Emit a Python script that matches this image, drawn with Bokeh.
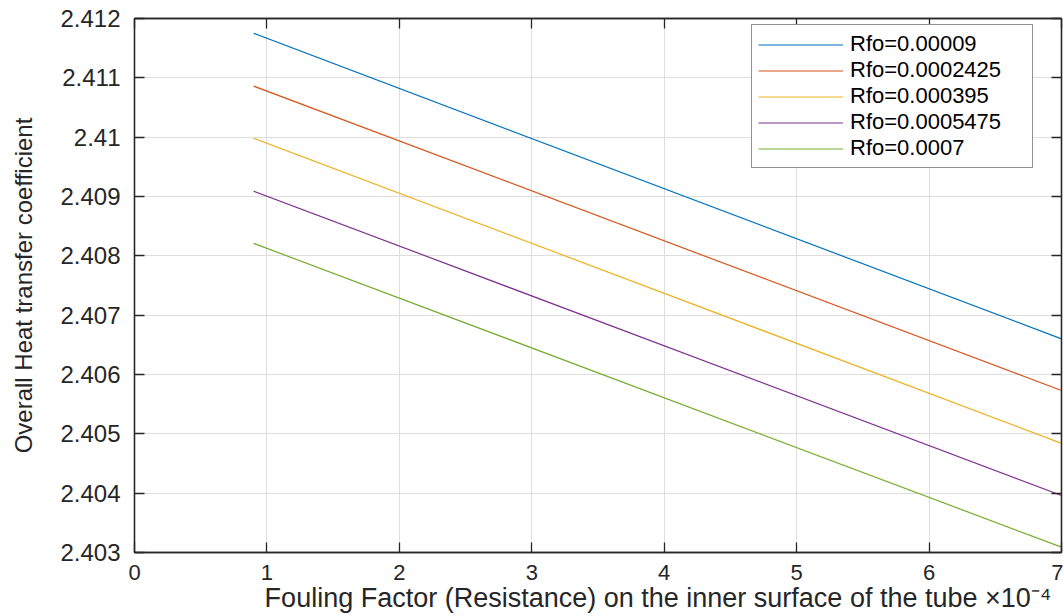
from bokeh.plotting import figure
from bokeh.models import Range1d, LinearAxis, FixedTicker, Legend, LegendItem, CustomJSTickFormatter
from bokeh.embed import file_html
from bokeh.resources import INLINE

# ---- data (x in units of 1e-4) ----
x_vals = [0.9, 7.0]
series_names = ["Rfo=0.00009", "Rfo=0.0002425", "Rfo=0.000395", "Rfo=0.0005475", "Rfo=0.0007"]
y_rfo_00009 = [2.41175, 2.40660]
y_rfo_0002425 = [2.41086, 2.40573]
y_rfo_000395 = [2.40998, 2.40484]
y_rfo_0005475 = [2.40909, 2.40396]
y_rfo_0007 = [2.40821, 2.40309]
series_values = [y_rfo_00009, y_rfo_0002425, y_rfo_000395, y_rfo_0005475, y_rfo_0007]
colors = ["#0072BD", "#D95319", "#EDB120", "#7E2F8E", "#77AC30"]

x_ticks = [0, 1, 2, 3, 4, 5, 6, 7]
y_ticks = [2.403, 2.404, 2.405, 2.406, 2.407, 2.408, 2.409, 2.410, 2.411, 2.412]
y_tick_labels = ["2.403", "2.404", "2.405", "2.406", "2.407", "2.408", "2.409", "2.41", "2.411", "2.412"]
x_label = "Fouling Factor (Resistance) on the inner surface of the tube"
x_exponent = "\u00d710\u207b\u2074"

FONT = "Liberation Sans"
TXT = "#262626"

p = figure(width=1063, height=616, output_backend="svg", toolbar_location=None,
           x_range=Range1d(0, 7), y_range=Range1d(2.403, 2.412),
           min_border_left=134, min_border_right=2, min_border_top=18, min_border_bottom=64)
p.background_fill_color = "white"
p.border_fill_color = "white"
p.outline_line_color = TXT
p.outline_line_width = 1.3

renderers = []
for name, ys, c in zip(series_names, series_values, colors):
    r = p.line(x_vals, ys, line_color=c, line_width=1.2)
    renderers.append((name, r))

# grid
for g in (p.xgrid, p.ygrid):
    g.grid_line_color = "#dedede"
    g.grid_line_width = 1
p.xgrid.ticker = FixedTicker(ticks=x_ticks)
p.ygrid.ticker = FixedTicker(ticks=y_ticks)

def style_axis(ax, ticks):
    ax.ticker = FixedTicker(ticks=ticks)
    ax.axis_line_color = TXT
    ax.axis_line_width = 1.3
    ax.major_tick_line_color = TXT
    ax.major_tick_line_width = 1.3
    ax.major_tick_in = 10
    ax.major_tick_out = 0
    ax.minor_tick_line_color = None
    ax.major_label_text_font = FONT
    ax.major_label_text_color = TXT
    ax.axis_label_text_font = FONT
    ax.axis_label_text_color = TXT
    ax.axis_label_text_font_style = "normal"

xa = p.xaxis[0]
style_axis(xa, x_ticks)
xa.major_label_text_font_size = "22px"
xa.major_label_standoff = 12
# leading no-break spaces push the centred label right so the exponent sits at the right end
xa.axis_label = "\u00a0" * 16 + x_label + " " + x_exponent
xa.axis_label_text_font_size = "27px"
xa.axis_label_standoff = 0

ya = p.yaxis[0]
style_axis(ya, y_ticks)
ya.major_label_overrides = {t: l for t, l in zip(y_ticks, y_tick_labels)}
ya.major_label_text_font_size = "24px"
ya.major_label_standoff = 14
ya.axis_label = "Overall Heat transfer coefficient"
ya.axis_label_text_font_size = "24px"
ya.axis_label_standoff = 20

blank = CustomJSTickFormatter(code="return '';")

top_ax = LinearAxis(formatter=blank)
style_axis(top_ax, x_ticks)
top_ax.major_label_standoff = 0
p.add_layout(top_ax, "above")

right_ax = LinearAxis(formatter=blank)
style_axis(right_ax, y_ticks)
right_ax.major_label_standoff = 0
p.add_layout(right_ax, "right")

legend = Legend(items=[LegendItem(label=n, renderers=[r]) for n, r in renderers],
                location=(617, 384))
legend.label_text_font = FONT
legend.label_text_font_size = "22px"
legend.label_text_color = "black"
legend.glyph_width = 85
legend.glyph_height = 21
legend.label_height = 21
legend.label_width = 176
legend.label_standoff = 7
legend.spacing = 0
legend.padding = 6
legend.margin = 0
legend.border_line_color = TXT
legend.border_line_width = 1
legend.background_fill_color = "white"
legend.background_fill_alpha = 1
p.add_layout(legend, "center")

open("out.html", "w").write(file_html(p, INLINE))
